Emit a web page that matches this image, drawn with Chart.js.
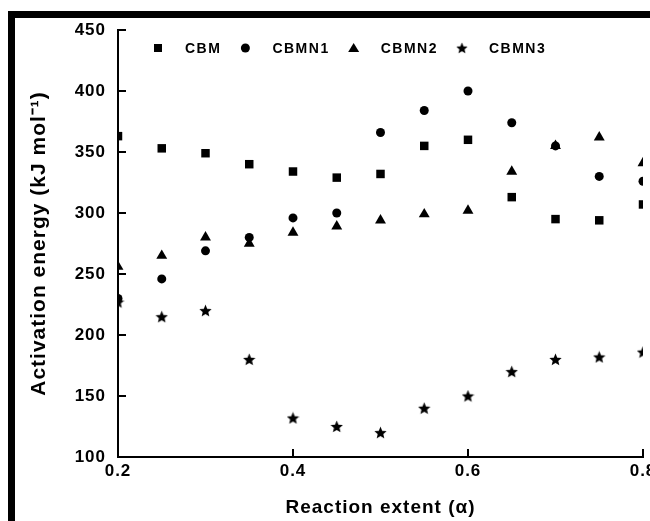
<!DOCTYPE html>
<html>
<head>
<meta charset="utf-8">
<script src="https://cdn.jsdelivr.net/npm/chart.js@4.4.1/dist/chart.umd.min.js"></script>
<style>
  html, body { margin: 0; padding: 0; background: #fff; }
</style>
</head>
<body>
<canvas id="dataPlot" width="650" height="521"></canvas>
<script>
// reaction extent (alpha) and activation energies
const extent = [0.2, 0.25, 0.3, 0.35, 0.4, 0.45, 0.5, 0.55, 0.6, 0.65, 0.7, 0.75, 0.8];
const cbm   = [363, 353, 349, 340, 334, 329, 332, 355, 360, 313, 295, 294, 307];
const cbmn1 = [230, 246, 269, 280, 296, 300, 366, 384, 400, 374, 355, 330, 326];
const cbmn2 = [256, 265, 280, 275, 284, 289, 294, 299, 302, 334, 355, 362, 341];
const cbmn3 = [227, 215, 220, 180, 132, 125, 120, 140, 150, 170, 180, 182, 186];
const seriesNames = ['CBM', 'CBMN1', 'CBMN2', 'CBMN3'];

const FONT = "'Liberation Sans', Arial, sans-serif";

// filled five point star, used as point style
function makeStar(size) {
  const c = document.createElement('canvas');
  c.width = size; c.height = size;
  const g = c.getContext('2d');
  const cx = size / 2, cy = size / 2 + 0.5, ro = size / 2, ri = ro * 0.45;
  g.beginPath();
  for (let i = 0; i < 10; i++) {
    const r = i % 2 ? ri : ro;
    const a = -Math.PI / 2 + i * Math.PI / 5;
    g.lineTo(cx + r * Math.cos(a), cy + r * Math.sin(a));
  }
  g.closePath();
  g.fillStyle = '#000';
  g.fill();
  return c;
}
const star = makeStar(13);

const pts = (vals) => extent.map((x, i) => ({x: x, y: vals[i]}));

const styles = [
  {pointStyle: 'rect', pointRadius: 6},
  {pointStyle: 'circle', pointRadius: 4.5},
  {pointStyle: 'triangle', pointRadius: 6.3},
  {pointStyle: star, pointRadius: 6.5}
];

const dataPlot = {
  datasets: [cbm, cbmn1, cbmn2, cbmn3].map((v, i) => ({
    label: seriesNames[i],
    data: pts(v),
    pointStyle: styles[i].pointStyle,
    pointRadius: styles[i].pointRadius,
    pointHoverRadius: styles[i].pointRadius,
    backgroundColor: '#000',
    borderColor: '#000',
    borderWidth: 0,
    clip: 0
  }))
};

// white page and the black frame round it
const frame = {
  id: 'frame',
  beforeDraw(chart) {
    const ctx = chart.ctx;
    ctx.save();
    ctx.fillStyle = '#fff';
    ctx.fillRect(0, 0, chart.width, chart.height);
    ctx.fillStyle = '#000';
    ctx.fillRect(8, 11, chart.width - 8, 7);
    ctx.fillRect(8, 11, 7, chart.height - 11);
    ctx.restore();
    ctx.letterSpacing = '1px';
  }
};

// ticks point into the plot
const innerTicks = {
  id: 'innerTicks',
  afterDatasetsDraw(chart) {
    const {ctx, chartArea: a, scales: {x, y}} = chart;
    ctx.save();
    ctx.strokeStyle = '#000';
    ctx.lineWidth = 2;
    ctx.beginPath();
    y.ticks.forEach(t => {
      const p = Math.round(y.getPixelForValue(t.value));
      ctx.moveTo(a.left, p); ctx.lineTo(a.left + 8, p);
    });
    x.ticks.forEach(t => {
      const p = Math.round(x.getPixelForValue(t.value));
      ctx.moveTo(p, a.bottom); ctx.lineTo(p, a.bottom - 8);
    });
    ctx.stroke();
    ctx.restore();
  }
};

// legend inside the plot, one row
const innerLegend = {
  id: 'innerLegend',
  afterDraw(chart) {
    const {ctx, chartArea: a} = chart;
    const cy = 48;
    let cx = a.left + 40;
    ctx.save();
    ctx.font = 'bold 14px ' + FONT;
    ctx.letterSpacing = '1.5px';
    ctx.fillStyle = '#000';
    ctx.textBaseline = 'middle';
    chart.data.datasets.forEach((ds, i) => {
      ctx.beginPath();
      if (i === 0) ctx.rect(cx - 4, cy - 4, 8, 8);
      else if (i === 1) ctx.arc(cx, cy, 4.5, 0, Math.PI * 2);
      else if (i === 2) { ctx.moveTo(cx, cy - 5); ctx.lineTo(cx + 5.5, cy + 4); ctx.lineTo(cx - 5.5, cy + 4); ctx.closePath(); }
      if (i < 3) ctx.fill();
      else ctx.drawImage(star, cx - 6, cy - 6, 12, 12);
      const tx = cx + 27;
      ctx.fillText(ds.label, tx, cy + 1);
      cx = tx + ctx.measureText(ds.label).width + 24;
    });
    ctx.restore();
  }
};

new Chart(document.getElementById('dataPlot'), {
  type: 'scatter',
  data: dataPlot,
  plugins: [frame, innerTicks, innerLegend],
  options: {
    responsive: false,
    animation: false,
    events: [],
    layout: {padding: {top: 30, right: 7, left: 0, bottom: 0}},
    plugins: {
      legend: {display: false},
      tooltip: {enabled: false}
    },
    scales: {
      x: {
        type: 'linear',
        min: 0.2,
        max: 0.8,
        grid: {display: false, drawTicks: false},
        border: {display: true, color: '#000', width: 2},
        ticks: {
          stepSize: 0.2,
          padding: 4,
          maxRotation: 0,
          autoSkip: false,
          color: '#000',
          font: {family: FONT, size: 17, weight: 'bold'},
          callback: (v) => v.toFixed(1)
        },
        title: {
          display: true,
          text: 'Reaction extent (\u03b1)',
          color: '#000',
          padding: {top: 0, bottom: 2},
          font: {family: FONT, size: 19, weight: 'bold'}
        },
        afterFit(s) { s.height = 64; s.paddingLeft = 0; s.paddingRight = 0; }
      },
      y: {
        min: 100,
        max: 450,
        grid: {display: false, drawTicks: false},
        border: {display: true, color: '#000', width: 2},
        ticks: {
          stepSize: 50,
          padding: 12,
          color: '#000',
          font: {family: FONT, size: 17, weight: 'bold'}
        },
        title: {
          display: true,
          text: 'Activation energy (kJ mol\u207b\u00b9)',
          color: '#000',
          padding: {top: 27, bottom: 0},
          font: {family: FONT, size: 21, weight: 'bold'}
        },
        afterFit(s) { s.width = 118; s.paddingTop = 0; s.paddingBottom = 0; }
      }
    }
  }
});
</script>
</body>
</html>
